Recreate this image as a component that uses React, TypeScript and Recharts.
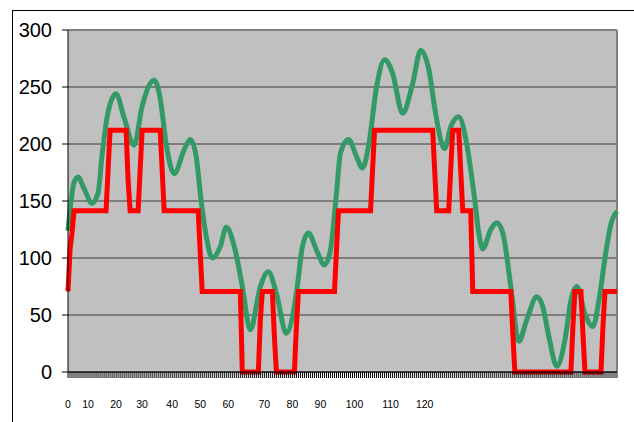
import React from "react";
import { LineChart, Line, XAxis, YAxis, CartesianGrid, ReferenceLine } from "recharts";

// green curve, read at peaks, valleys and along the slopes (index on the category axis)
const greenIdx = [
  0, 3, 5, 8, 12, 15, 17, 20, 24, 28, 33, 37, 43, 46, 49, 53, 58, 61, 64, 66,
  69, 72, 76, 79, 83, 87, 91, 96, 100, 104, 109, 114, 117, 120, 124, 128, 131, 134, 136, 140,
  144, 147, 150, 154, 158, 162, 167, 172, 176, 180, 183, 186, 188, 191, 195, 199, 203, 205, 207, 211,
  214, 217, 221, 225, 229, 234, 237, 240, 244, 248, 251, 254, 258, 262, 265, 268, 271, 274,
];
const greenVal = [
  124, 166, 171, 161, 148, 157, 190, 228, 244, 223, 199, 233, 256, 240, 200, 174, 195, 204, 189, 157,
  119, 100, 110, 127, 110, 75, 37, 75, 88, 69, 34, 69, 110, 122, 107, 94, 107, 157, 192, 204,
  189, 179, 198, 250, 274, 262, 227, 253, 282, 266, 232, 204, 196, 215, 224, 200, 151, 122, 108, 125,
  131, 122, 75, 27, 46, 66, 57, 31, 5, 28, 63, 75, 51, 40, 63, 100, 130, 141,
];

// red step series as runs of [value, number of points]
const redRuns: [number, number][] = [
  [70.71, 1], [107, 1], [122, 1], [141.42, 17], [177, 1], [212.13, 9], [168, 1], [141.42, 5],
  [177, 1], [212.13, 10], [177, 1], [141.42, 18], [104, 1], [70.71, 20], [0, 9], [46, 1],
  [70.71, 6], [31, 1], [0, 10], [40, 1], [70.71, 19], [107, 1], [141.42, 17], [177, 1],
  [212.13, 30], [177, 1], [141.42, 7], [177, 1], [212.13, 4], [177, 1], [141.42, 5], [70.71, 20],
  [34, 1], [0, 29], [40, 1], [70.71, 4], [34, 1], [0, 9], [40, 1], [70.71, 7],
];

const yTicks = [0, 50, 100, 150, 200, 250, 300];
const xLabelIdx = [0, 10, 24, 37, 52, 66, 80, 98, 112, 126, 143, 161, 178];
const xLabelText = ["0", "10", "20", "30", "40", "50", "60", "70", "80", "90", "100", "110", "120"];

const redSeries: number[] = [];
redRuns.forEach(([v, n]) => {
  for (let k = 0; k < n; k++) redSeries.push(v);
});

const data = redSeries.map((red, i) => {
  const g = greenIdx.indexOf(i);
  return { i, red, green: g >= 0 ? greenVal[g] : null };
});
const lastIdx = data.length - 1;

function XTick({ x, y, payload }: any) {
  const k = xLabelIdx.indexOf(payload.value);
  if (k < 0) return <g />;
  return (
    <text x={x} y={y + 28} textAnchor="middle" fontSize={10.5} fill="#000">
      {xLabelText[k]}
    </text>
  );
}

export default function App() {
  return (
    <div
      style={{
        position: "absolute",
        left: 0,
        top: 0,
        width: 634,
        height: 422,
        overflow: "hidden",
        background: "#fff",
        fontFamily: "'Liberation Sans', Arial, sans-serif",
      }}
    >
      <div
        style={{
          position: "absolute",
          left: 12,
          top: 10,
          width: 700,
          height: 500,
          borderLeft: "1px solid #000",
          borderTop: "1px solid #000",
        }}
      />
      <div style={{ position: "absolute", left: 0, top: 0 }}>
        <LineChart width={634} height={422} data={data} margin={{ top: 30, right: 17, bottom: 10, left: 8 }}>
          <CartesianGrid vertical={false} stroke="#3a3a3a" fill="#C0C0C0" fillOpacity={1} />
          <ReferenceLine y={300} stroke="#808080" strokeWidth={2} />
          <ReferenceLine x={lastIdx} stroke="#808080" strokeWidth={2} />
          <XAxis
            dataKey="i"
            interval={0}
            height={40}
            tick={<XTick />}
            tickSize={6}
            tickLine={{ stroke: "#000" }}
            axisLine={{ stroke: "#000" }}
          />
          <YAxis
            type="number"
            domain={[0, 300]}
            ticks={yTicks}
            width={60}
            tickSize={6}
            tickMargin={10}
            tick={{ fontSize: 20, fill: "#000" }}
            tickLine={{ stroke: "#000" }}
            axisLine={{ stroke: "#000" }}
          />
          <Line
            type="monotone"
            dataKey="green"
            stroke="#339966"
            strokeWidth={5}
            dot={false}
            connectNulls
            isAnimationActive={false}
          />
          <Line
            type="linear"
            dataKey="red"
            stroke="#FF0000"
            strokeWidth={5}
            dot={false}
            isAnimationActive={false}
          />
        </LineChart>
      </div>
    </div>
  );
}
